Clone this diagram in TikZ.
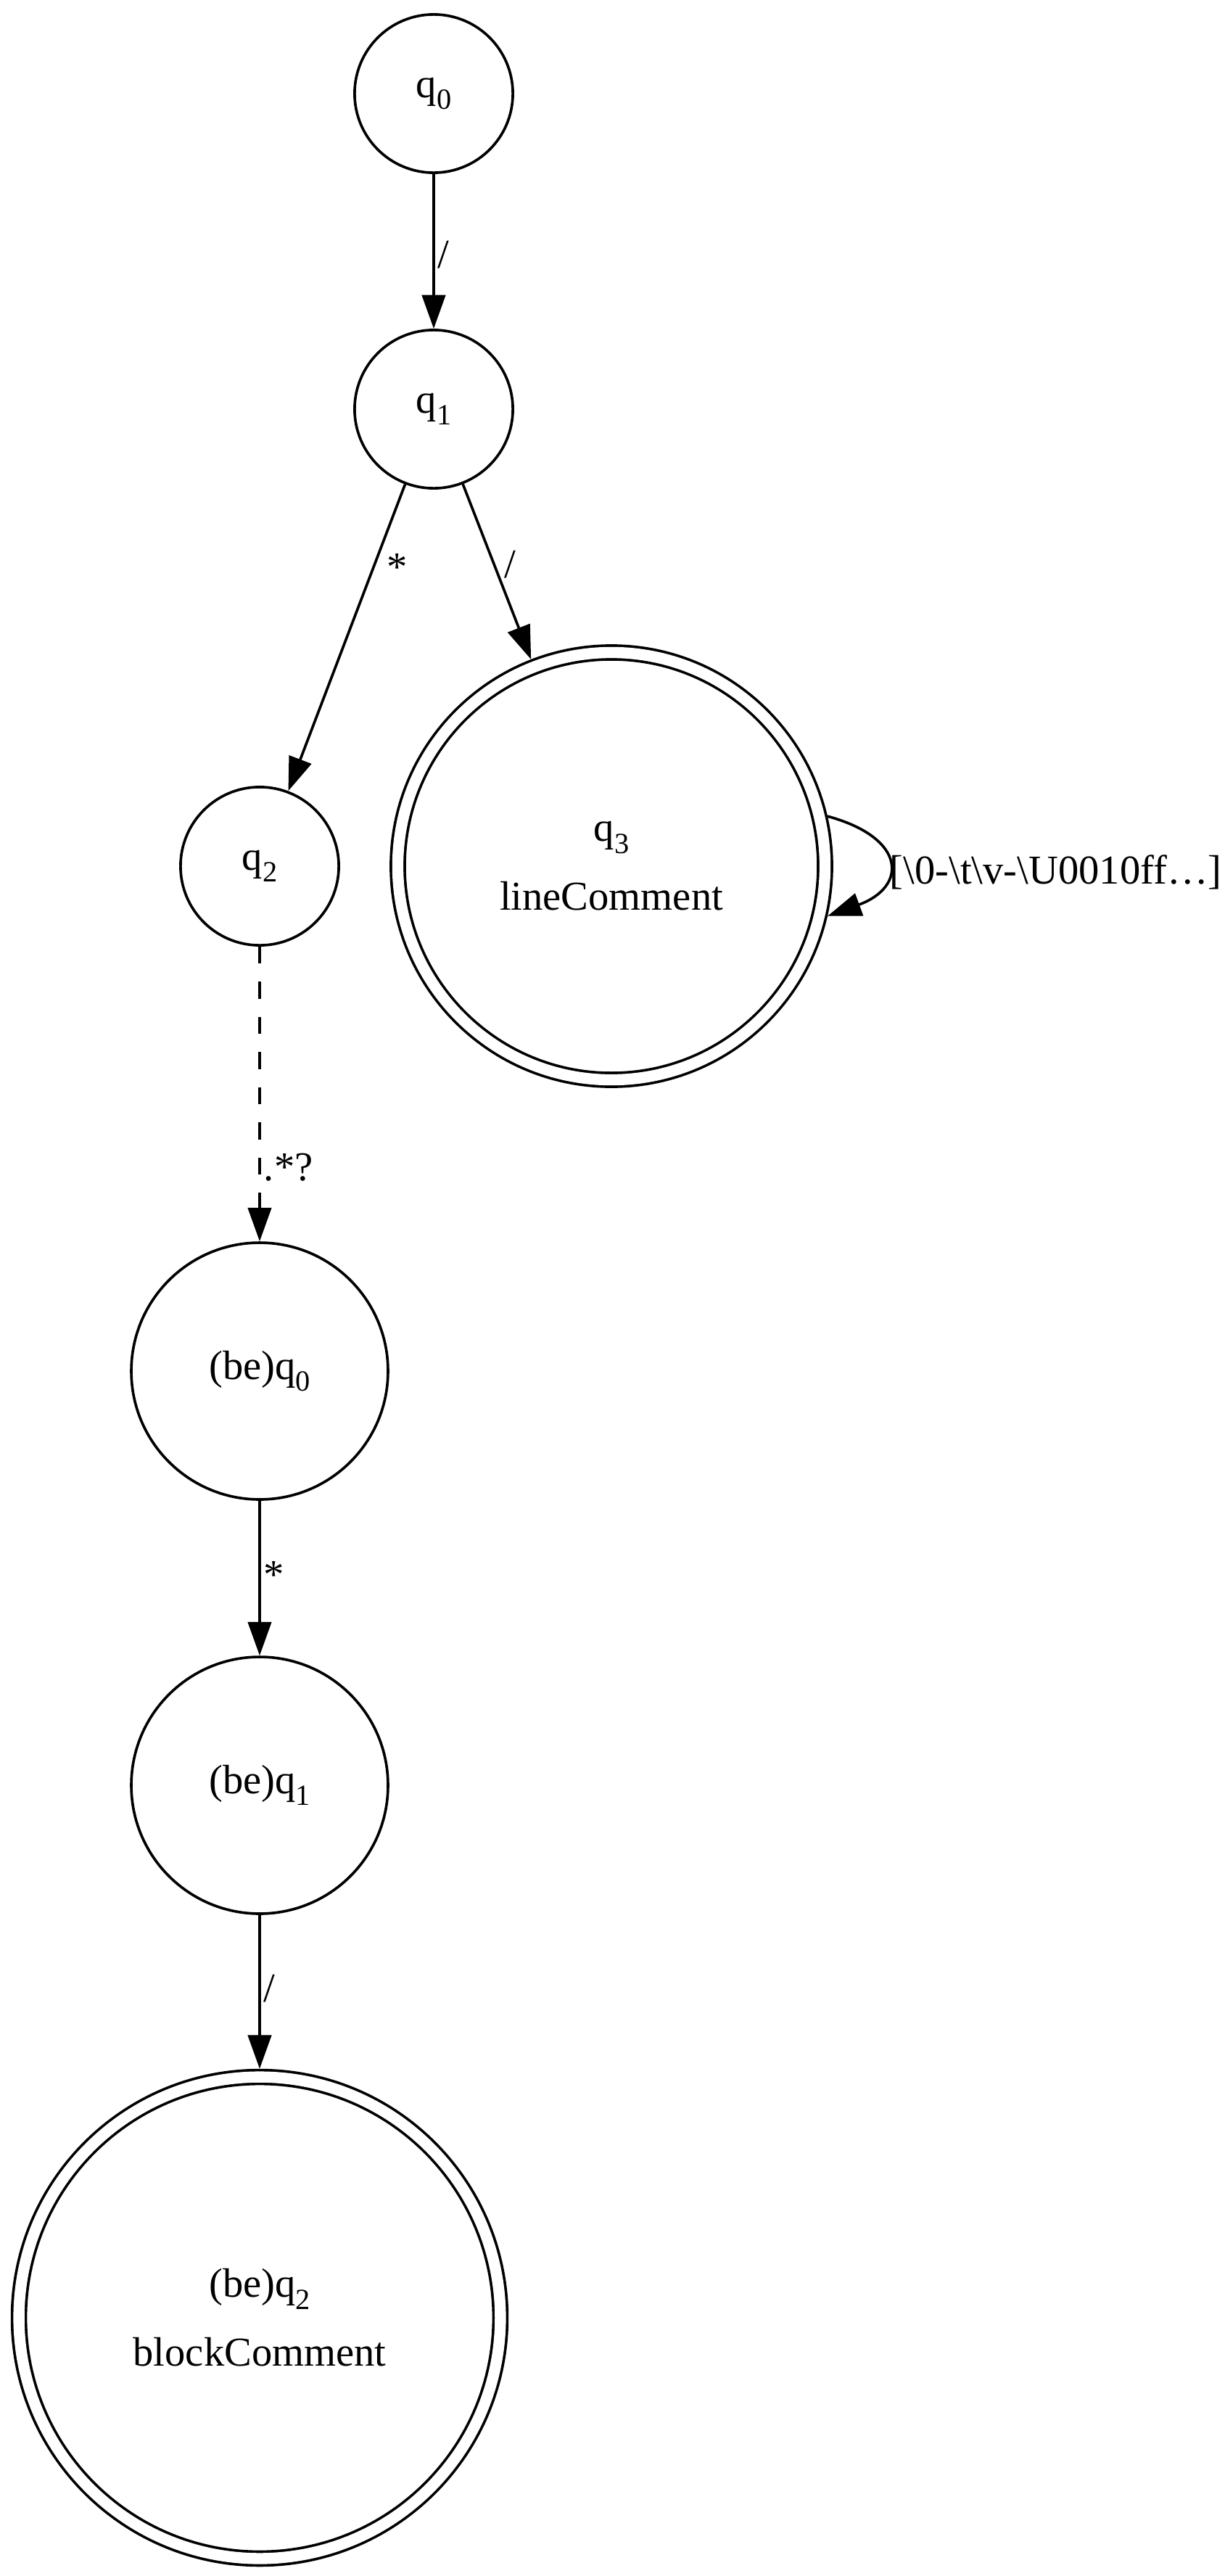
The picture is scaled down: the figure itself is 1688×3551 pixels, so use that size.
\documentclass[tikz,border=0pt]{standalone}
\usepackage{fontspec}
\setmainfont{Liberation Serif}
\usetikzlibrary{arrows.meta, positioning}

\newcommand\qsub[1]{\raisebox{-4pt}{\fontsize{10}{10}\selectfont#1}}

\tikzset{
  state/.style={circle, draw, line width=0.9pt, inner sep=0pt, minimum size=54pt},
  bigstate/.style={state, minimum size=87.6pt},
  accept/.style={state, double, double distance=3.8pt, outer sep=2.8pt,
    align=center, font=\fontsize{14}{23.5}\selectfont},
  edge/.style={line width=0.9pt, -{Triangle[length=11.5pt,width=8pt]}},
  lbl/.style={anchor=west, inner sep=1pt}
}

\begin{document}
\begin{tikzpicture}[x=0.2475pt, y=-0.2475pt, font=\fontsize{14}{17}\selectfont]
\useasboundingbox (0,0) rectangle (1688,3551);

\node[state] (q0) at (598,129) {q\qsub{0}};
\node[state] (q1) at (598,564) {q\qsub{1}};
\node[state] (q2) at (358,1194) {q\qsub{2}};
\node[accept, minimum size=145.8pt] (q3) at (843,1194) {q\qsub{3}\\lineComment};
\node[bigstate] (be0) at (358,1890) {(be)q\qsub{0}};
\node[bigstate] (be1) at (358,2461) {(be)q\qsub{1}};
\node[accept, minimum size=164.3pt] (be2) at (358,3195) {(be)q\qsub{2}\\blockComment};

\draw[edge] (q0) -- node[lbl, pos=0.52] (l01) {/} (q1);
\draw[edge] (q1) -- node[lbl, pos=0.27, inner sep=4pt] (l12) {*} (q2);
\draw[edge] (q1) -- node[lbl, pos=0.46, inner sep=3pt] (l13) {/} (q3);
\draw[edge] (q3.13.5) .. controls +(110,30) and +(110,-40) .. (q3.-13);
\node[anchor=west, inner sep=0pt] (l33) at (1226,1202)
  {[\textbackslash 0-\textbackslash t\textbackslash v-\textbackslash U0010ff…]};
\draw[edge, dash pattern=on 5.8pt off 6.2pt] (q2) -- node[lbl, pos=0.75] (l2b) {.*?} (be0);
\draw[edge] (be0) -- node[lbl, pos=0.48] (lb01) {*} (be1);
\draw[edge] (be1) -- node[lbl, pos=0.48] (lb12) {/} (be2);
\end{tikzpicture}
\end{document}
